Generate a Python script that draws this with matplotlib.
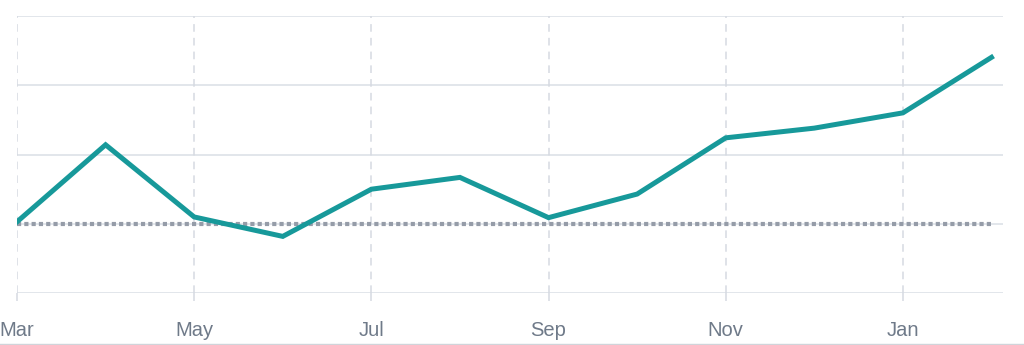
import matplotlib.pyplot as plt
import numpy as np

months = ['Mar', 'Apr', 'May', 'Jun', 'Jul', 'Aug', 'Sep', 'Oct', 'Nov', 'Dec', 'Jan', 'Feb']
values = [0.03, 1.14, 0.10, -0.18, 0.50, 0.67, 0.09, 0.43, 1.24, 1.38, 1.60, 2.40]
baseline = 0.0
yticks = [-1, 0, 1, 2, 3]

x = np.arange(len(months))

fig = plt.figure(figsize=(10.24, 3.45), dpi=100)
ax = fig.add_axes([17/1024, 51.7/345, 986/1024, 277.6/345])

# horizontal grid
for yv in yticks:
    ax.axhline(yv, color='#dde1e8', lw=1.2, zorder=1)
# vertical dashed grid at labelled months
for xv in x[::2]:
    ax.axvline(xv, color='#d6dae1', lw=1.1, ls=(0, (5, 4)), zorder=1)

ax.plot([x[0], x[-1]], [baseline, baseline], color='#959ca8', lw=3.0,
        ls=(0, (1.0, 0.75)), zorder=2, dash_capstyle='butt')
ax.plot(x, values, color='#17999a', lw=3.6, zorder=3, solid_joinstyle='miter')

ax.set_xlim(0, 11.13)
ax.set_ylim(-1, 3)
ax.set_xticks(x[::2])
ax.set_xticklabels(months[::2], fontsize=14.5, color='#6f7a89', family='Liberation Sans')
ax.tick_params(axis='x', length=6, width=1.1, color='#d6dae1', pad=14)
ax.set_yticks([])
for s in ax.spines.values():
    s.set_visible(False)

fig.add_artist(plt.Line2D([0, 1], [1.5/345, 1.5/345], color='#d0d4da', lw=1))

fig.savefig('out.png', dpi=100)
